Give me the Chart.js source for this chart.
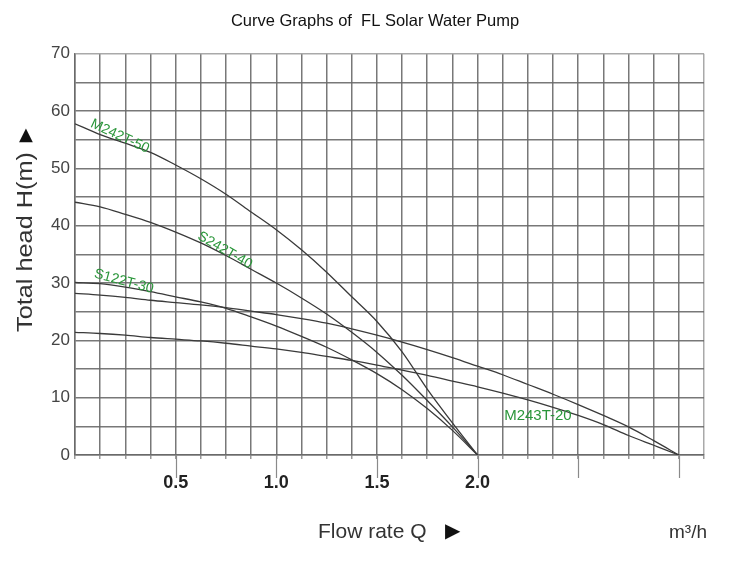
<!DOCTYPE html>
<html>
<head>
<meta charset="utf-8">
<script src="https://cdn.jsdelivr.net/npm/chart.js@4.4.1/dist/chart.umd.min.js"></script>
<style>
  html, body { margin: 0; padding: 0; background: #ffffff; }
  #wrap { width: 750px; height: 561px; position: relative; }
</style>
</head>
<body>
<div id="wrap"><canvas id="c" width="750" height="561"></canvas></div>
<script>
// ---- data ----
const flowShort = [0, 0.125, 0.25, 0.375, 0.5, 0.625, 0.75, 0.875, 1.0, 1.125, 1.25, 1.375, 1.5, 1.625, 1.75, 1.875, 2.0];
const flowLong  = [0, 0.125, 0.25, 0.375, 0.5, 0.625, 0.75, 0.875, 1.0, 1.125, 1.25, 1.375, 1.5, 1.625, 1.75, 1.875, 2.0,
                   2.125, 2.25, 2.375, 2.5, 2.625, 2.75, 2.875, 3.0];

const headM242T50 = [57.8, 55.9, 54.4, 52.8, 50.6, 48.2, 45.5, 42.4, 39.3, 35.8, 31.9, 27.6, 23.3, 18.0, 11.5, 5.6, 0];
const headS242T40 = [44.1, 43.3, 42.0, 40.6, 38.9, 37.0, 34.8, 32.4, 30.0, 27.4, 24.6, 21.4, 17.9, 13.9, 9.5, 4.9, 0];
const headS122T30 = [30.1, 29.9, 29.3, 28.5, 27.6, 26.7, 25.6, 24.1, 22.5, 20.7, 18.8, 16.6, 14.2, 11.4, 8.1, 4.3, 0];
const headCurve28 = [28.2, 27.9, 27.5, 27.0, 26.6, 26.2, 25.7, 25.1, 24.5, 23.8, 23.0, 22.0, 20.9, 19.7, 18.4, 17.0, 15.5,
                     14.0, 12.3, 10.6, 8.8, 6.9, 4.9, 2.5, 0];
const headM243T20 = [21.4, 21.2, 20.9, 20.5, 20.2, 19.9, 19.5, 19.0, 18.5, 17.9, 17.2, 16.5, 15.7, 14.8, 13.9, 12.9, 11.9,
                     10.8, 9.6, 8.3, 6.9, 5.3, 3.4, 1.7, 0];

const seriesNames = ['M242T-50', 'S242T-40', 'S122T-30', '', 'M243T-20'];
const xTickLabels = [0.5, 1.0, 1.5, 2.0];
const xMajorTicks = [0.5, 1.0, 1.5, 2.0, 2.5, 3.0];
const yLabelStep = 10;

// ---- build ----
function pts(xs, ys) { return xs.map((v, i) => ({ x: v, y: ys[i] })); }

const lineStyle = {
  borderColor: '#3a3a3a', borderWidth: 1.3, pointRadius: 0, fill: false,
  cubicInterpolationMode: 'monotone'
};

const datasets = [
  Object.assign({ label: seriesNames[0], data: pts(flowShort, headM242T50) }, lineStyle),
  Object.assign({ label: seriesNames[1], data: pts(flowShort, headS242T40) }, lineStyle),
  Object.assign({ label: seriesNames[2], data: pts(flowShort, headS122T30) }, lineStyle),
  Object.assign({ label: 'curve-28', data: pts(flowLong, headCurve28) }, lineStyle),
  Object.assign({ label: seriesNames[4], data: pts(flowLong, headM243T20) }, lineStyle)
];

// label placement (styling/positions, in data units)
const curveLabelPlacement = [
  { text: seriesNames[0], x: 0.223, y: 55.6, angle: 25, size: 14 },
  { text: seriesNames[1], x: 0.745, y: 35.7, angle: 30, size: 14 },
  { text: seriesNames[2], x: 0.243, y: 30.3, angle: 15, size: 14 },
  { text: seriesNames[4], x: 2.30,  y: 6.8,  angle: 0,  size: 15 }
];

const extras = {
  id: 'extras',
  afterDraw(chart) {
    const ctx = chart.ctx;
    const xs = chart.scales.x, ys = chart.scales.y;
    const area = chart.chartArea;
    ctx.save();
    // long ticks under labelled positions
    ctx.strokeStyle = '#8a8a8a';
    ctx.lineWidth = 1.2;
    xMajorTicks.forEach(v => {
      const px = Math.round(xs.getPixelForValue(v)) + 0.5;
      ctx.beginPath();
      ctx.moveTo(px, area.bottom);
      ctx.lineTo(px, area.bottom + 23);
      ctx.stroke();
    });
    // curve labels
    ctx.fillStyle = '#2a963a';
    ctx.textAlign = 'center';
    ctx.textBaseline = 'middle';
    curveLabelPlacement.forEach(l => {
      ctx.save();
      ctx.translate(xs.getPixelForValue(l.x), ys.getPixelForValue(l.y));
      ctx.rotate(l.angle * Math.PI / 180);
      ctx.font = l.size + 'px "Liberation Sans", Arial, sans-serif';
      ctx.fillText(l.text, 0, 0);
      ctx.restore();
    });
    // y axis title
    ctx.fillStyle = '#333333';
    ctx.save();
    ctx.translate(26, 242);
    ctx.rotate(-Math.PI / 2);
    ctx.scale(1.15, 1);
    ctx.font = '22px "Liberation Sans", Arial, sans-serif';
    ctx.fillText('Total head H(m)', 0, 0);
    ctx.restore();
    ctx.fillStyle = '#111111';
    ctx.font = '18px "DejaVu Sans", sans-serif';
    ctx.fillText('\u25B2', 26, 135);
    // x axis title
    ctx.fillStyle = '#333333';
    ctx.font = '21px "Liberation Sans", Arial, sans-serif';
    ctx.textAlign = 'left';
    ctx.fillText('Flow rate Q', 318, 532);
    ctx.fillStyle = '#111111';
    ctx.font = '20px "DejaVu Sans", sans-serif';
    ctx.fillText('\u25B6', 445, 532);
    ctx.fillStyle = '#333333';
    ctx.font = '19px "Liberation Sans", Arial, sans-serif';
    ctx.fillText('m\u00B3/h', 669, 533);
    ctx.restore();
  }
};

const gridColor = 'rgba(105,105,105,0.9)';
const edgeColor = 'rgba(160,160,160,0.9)';

new Chart(document.getElementById('c'), {
  type: 'line',
  data: { datasets },
  plugins: [extras],
  options: {
    responsive: false,
    animation: false,
    layout: { padding: { left: 0, right: 0, top: 0, bottom: 0 } },
    plugins: {
      legend: { display: false },
      tooltip: { enabled: false },
      title: {
        display: true,
        text: 'Curve Graphs of  FL Solar Water Pump',
        color: '#111111',
        font: { family: '"Liberation Sans", Arial, sans-serif', size: 16.5, weight: 'normal' },
        padding: { top: 12, bottom: 22 }
      }
    },
    scales: {
      x: {
        type: 'linear',
        min: 0, max: 3.125,
        afterFit(s) { s.height = 106; },
        grid: {
          color: c => (c.tick && Math.abs(c.tick.value - 3.125) < 1e-6 ? edgeColor : gridColor),
          lineWidth: 1.5, drawTicks: true, tickLength: 4, tickColor: '#999'
        },
        border: { display: true, color: gridColor, width: 1.5 },
        ticks: {
          stepSize: 0.125, autoSkip: false, maxRotation: 0, padding: 13,
          color: '#222222',
          font: { family: '"Liberation Sans", Arial, sans-serif', size: 18, weight: 'bold' },
          callback: v => (xTickLabels.some(t => Math.abs(t - v) < 1e-6) ? v.toFixed(1) : '')
        }
      },
      y: {
        type: 'linear',
        min: 0, max: 70,
        afterFit(s) { s.width = 75; },
        grid: {
          color: c => (c.tick && c.tick.value === 70 ? edgeColor : gridColor),
          lineWidth: 1.5, drawTicks: false
        },
        border: { display: true, color: gridColor, width: 1.5 },
        ticks: {
          stepSize: 5, autoSkip: false, padding: 5,
          color: '#444444',
          font: { family: '"Liberation Sans", Arial, sans-serif', size: 17 },
          callback: v => (v % yLabelStep === 0 ? String(v) : '')
        }
      },
      yRight: {
        type: 'linear',
        position: 'right',
        min: 0, max: 70,
        afterFit(s) { s.width = 46; },
        grid: { display: false, drawOnChartArea: false },
        border: { display: false },
        ticks: { display: false }
      }
    }
  }
});
</script>
</body>
</html>
